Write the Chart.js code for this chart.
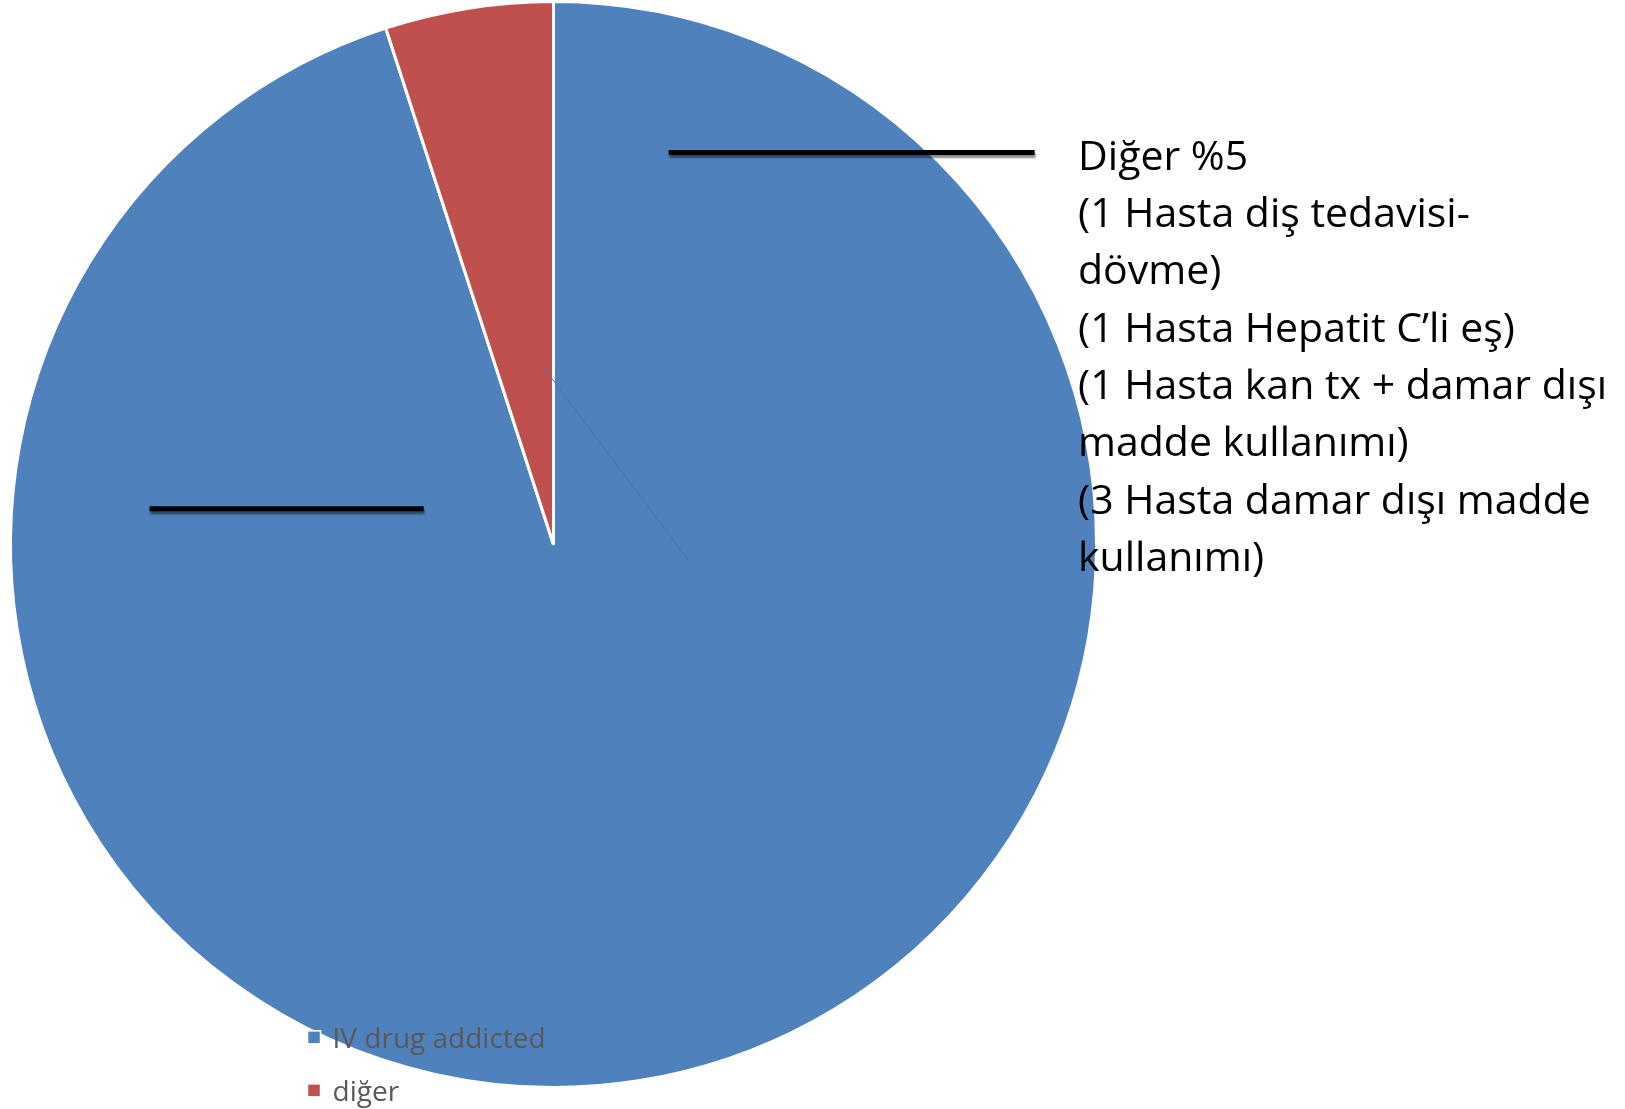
<!DOCTYPE html>
<html>
<head>
<meta charset="utf-8">
<script src="https://cdn.jsdelivr.net/npm/chart.js@4/dist/chart.umd.min.js"></script>
<style>
    html, body { margin: 0; padding: 0; background: #fff; }
    #wrap { position: relative; width: 1625px; height: 1109px; }
</style>
</head>
<body>
<div id="wrap"><canvas id="pie" width="1625" height="1109"></canvas></div>
<script>
// chart data
const labels = ['IV drug addicted', 'diğer'];
const values = [95, 5];
const colors = ['#4F81BD', '#C0504D'];

// callout text next to the chart
const noteLines = [
    'Diğer %5',
    '(1 Hasta diş tedavisi-',
    'dövme)',
    '(1 Hasta Hepatit C’li eş)',
    '(1 Hasta kan tx + damar dışı',
    'madde kullanımı)',
    '(3 Hasta damar dışı madde',
    'kullanımı)'
];

const FONT = '"Open Sans", Lato, "Noto Sans", sans-serif';

// leader lines, as fractions of the pie radius from its centre
const leaders = [
    { y: -0.722, x0: 0.212, x1: 0.886 },
    { y: -0.066, x0: -0.744, x1: -0.239 }
];

const overlayPlugin = {
    id: 'overlay',
    afterDraw: (chart) => {
        const ctx = chart.ctx;
        const arc = chart.getDatasetMeta(0).data[0];
        const cx = arc.x, cy = arc.y, r = arc.outerRadius;

        // faint leader inside the blue slice
        ctx.save();
        ctx.strokeStyle = '#4775ad';
        ctx.lineWidth = 1;
        ctx.beginPath();
        ctx.moveTo(cx - 0.018 * r, cy - 0.326 * r);
        ctx.lineTo(cx + 0.247 * r, cy + 0.028 * r);
        ctx.stroke();
        ctx.restore();

        // black leader lines with a soft shadow
        leaders.forEach(l => {
            ctx.save();
            ctx.shadowColor = 'rgba(0,0,0,0.45)';
            ctx.shadowOffsetY = 3;
            ctx.shadowOffsetX = 1;
            ctx.shadowBlur = 2;
            ctx.strokeStyle = '#000';
            ctx.lineWidth = 5;
            ctx.beginPath();
            ctx.moveTo(cx + l.x0 * r, cy + l.y * r);
            ctx.lineTo(cx + l.x1 * r, cy + l.y * r);
            ctx.stroke();
            ctx.restore();
        });

        // callout text
        ctx.save();
        ctx.fillStyle = '#000';
        ctx.font = '41px ' + FONT;
        ctx.textBaseline = 'alphabetic';
        const tx = cx + 0.966 * r;
        let ty = cy - 0.690 * r;
        noteLines.forEach(line => {
            ctx.fillText(line, tx, ty);
            ty += 57.3;
        });
        ctx.restore();

        // legend
        ctx.save();
        ctx.font = '28px ' + FONT;
        let ly = cy + 0.927 * r;
        labels.forEach((lab, i) => {
            const bx = cx - 0.453 * r;
            ctx.fillStyle = colors[i];
            ctx.strokeStyle = '#fff';
            ctx.lineWidth = 1.5;
            ctx.fillRect(bx, ly - 17, 13, 13);
            ctx.strokeRect(bx, ly - 17, 13, 13);
            ctx.fillStyle = '#595959';
            ctx.fillText(lab, bx + 25, ly);
            ly += 53;
        });
        ctx.restore();
    }
};

let chart = new Chart(document.getElementById('pie').getContext('2d'), {
    type: 'pie',
    data: {
        labels: labels,
        datasets: [{
            data: values,
            backgroundColor: colors,
            borderColor: '#fff',
            borderWidth: 3
        }]
    },
    options: {
        responsive: false,
        animation: false,
        layout: { padding: { left: 9, top: 0, right: 527, bottom: 20 } },
        plugins: {
            legend: { display: false },
            tooltip: { enabled: false }
        }
    },
    plugins: [overlayPlugin]
});
</script>
</body>
</html>
